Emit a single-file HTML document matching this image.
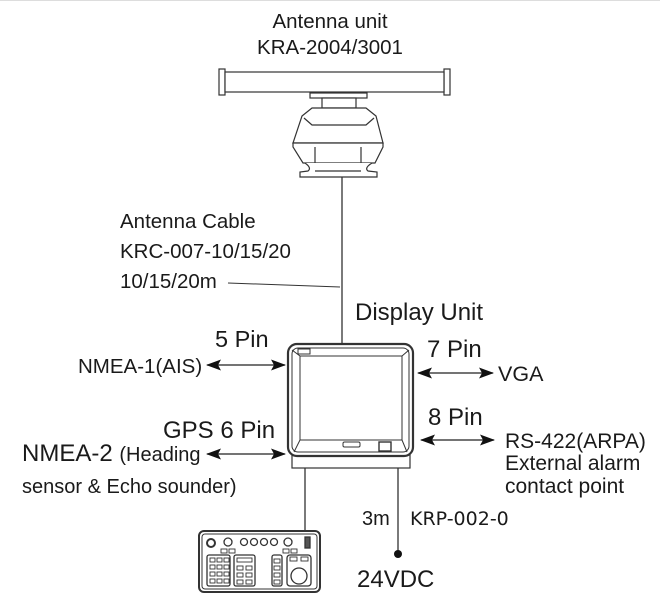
<!DOCTYPE html>
<html><head><meta charset="utf-8"><style>
html,body{margin:0;padding:0;background:#fff}
svg{display:block}
text{font-family:"Liberation Sans",sans-serif;fill:#1a1a1a}
</style></head><body>
<svg width="660" height="609" viewBox="0 0 660 609" xmlns="http://www.w3.org/2000/svg">
<line x1="0" y1="0.5" x2="660" y2="0.5" stroke="#ddd"/>
<defs>
<marker id="ah" markerWidth="15" markerHeight="11" refX="14" refY="5.5" orient="auto-start-reverse" markerUnits="userSpaceOnUse"><path d="M0,0 L15,5.5 L0,11 L3,5.5 Z" fill="#111"/></marker>
</defs>
<!-- texts -->
<text x="330" y="28" font-size="20.5" text-anchor="middle">Antenna unit</text>
<text x="330" y="54" font-size="20.5" text-anchor="middle">KRA-2004/3001</text>
<text x="120" y="228" font-size="20.5">Antenna Cable</text>
<text x="120" y="258" font-size="20.5">KRC-007-10/15/20</text>
<text x="120" y="288" font-size="20.5">10/15/20m</text>
<text x="355" y="320" font-size="24">Display Unit</text>
<text x="215" y="347" font-size="23.5">5 Pin</text>
<text x="78" y="373" font-size="20.5">NMEA-1(AIS)</text>
<text x="163" y="438" font-size="24">GPS 6 Pin</text>
<text x="22" y="461" font-size="24">NMEA-2 <tspan font-size="20">(Heading</tspan></text>
<text x="22" y="493" font-size="20">sensor &amp; Echo sounder)</text>
<text x="427" y="357" font-size="24">7 Pin</text>
<text x="498" y="381" font-size="21.5">VGA</text>
<text x="428" y="425" font-size="24">8 Pin</text>
<text x="505" y="448" font-size="21">RS-422(ARPA)</text>
<text x="505" y="470" font-size="21">External alarm</text>
<text x="505" y="493" font-size="21">contact point</text>
<text x="362" y="525" font-size="20">3m</text>
<text x="410" y="525" font-size="19" style="font-family:'DejaVu Sans',sans-serif">KRP-002-0</text>
<text x="357" y="587" font-size="24">24VDC</text>
<!-- cable lines -->
<line x1="228" y1="283" x2="340" y2="287" stroke="#333" stroke-width="1"/>
<line x1="342" y1="177" x2="342" y2="344" stroke="#222" stroke-width="1.2"/>
<line x1="305" y1="468" x2="305" y2="531" stroke="#222" stroke-width="1.2"/>
<line x1="398" y1="468" x2="398" y2="553" stroke="#222" stroke-width="1.2"/>
<circle cx="398" cy="554" r="4" fill="#111"/>
<!-- arrows -->
<g stroke="#222" stroke-width="1.2" marker-start="url(#ah)" marker-end="url(#ah)">
<line x1="207" y1="365" x2="285" y2="365"/>
<line x1="207" y1="454" x2="285" y2="454"/>
<line x1="418" y1="373" x2="493" y2="373"/>
<line x1="421" y1="440" x2="494" y2="440"/>
</g>
<!-- antenna -->
<g fill="#fff" stroke="#333" stroke-width="1.2">
<rect x="219" y="69" width="6" height="26"/>
<rect x="444" y="69" width="6" height="26"/>
<rect x="225" y="72" width="219" height="20"/>
<rect x="310" y="93" width="57" height="5"/>
<rect x="322" y="98" width="34" height="10"/>
<path d="M302,116 L312,108 L366,108 L376,116 L383,143 L293,143 Z"/>
<path d="M304,118 L312,125 L366,125 L374,118" fill="none"/>
<path d="M293,143 L383,143 L383,147 L375,163 L303,163 L293,147 Z"/>
<line x1="315" y1="147" x2="315" y2="163"/><line x1="361" y1="147" x2="361" y2="163"/>
<path d="M305,163 Q312,168 308,171 L300,172 L300,177 L377,177 L377,172 L368,171 Q364,168 372,163" />
<line x1="315" y1="171" x2="361" y2="171"/>
</g>
<!-- display unit -->
<g fill="#fff" stroke="#333">
<rect x="292" y="455" width="118" height="13" stroke-width="1.2"/>
<rect x="288" y="344" width="125" height="112" rx="9" stroke-width="2.2"/>
<rect x="292" y="348" width="117" height="104" rx="6" stroke-width="1"/>
<path d="M300,356 L402,356 L402,440 L300,440 Z" stroke-width="1"/>
<line x1="292" y1="350" x2="300" y2="356"/><line x1="409" y1="350" x2="402" y2="356"/>
<line x1="294" y1="452" x2="300" y2="440"/><line x1="407" y1="452" x2="402" y2="440"/>
<rect x="298" y="349" width="12" height="5" stroke-width="1"/>
<rect x="343" y="442" width="17" height="5" rx="1.5" stroke-width="1"/>
<rect x="379" y="442" width="12" height="9" stroke-width="1.4"/>
</g>
<!-- keyboard -->
<g fill="#fff" stroke="#333" stroke-width="1.3">
<rect x="199" y="531" width="121" height="61" rx="5" stroke-width="2"/>
<rect x="202" y="534" width="115" height="55" rx="3" stroke-width="1"/>
<circle cx="211" cy="543" r="4" stroke-width="2"/>
<circle cx="228" cy="542" r="4"/><circle cx="244" cy="542" r="3.5"/><circle cx="254" cy="542" r="3.5"/><circle cx="264" cy="542" r="3.5"/><circle cx="274" cy="542" r="3.5"/><circle cx="288" cy="542" r="4"/>
<rect x="305" y="537" width="5" height="11" fill="#555"/>
<rect x="207" y="555" width="23" height="31" rx="2"/>
<rect x="234" y="555" width="21" height="31" rx="2"/>
<rect x="272" y="555" width="10" height="31" rx="2"/>
<rect x="287" y="555" width="24" height="31" rx="3"/>
<circle cx="299" cy="576" r="8"/>
</g>
<g fill="none" stroke="#333" stroke-width="0.9">
<rect x="210" y="558" width="5" height="4"/><rect x="217" y="558" width="5" height="4"/><rect x="224" y="558" width="5" height="4"/>
<rect x="210" y="565" width="5" height="4"/><rect x="217" y="565" width="5" height="4"/><rect x="224" y="565" width="5" height="4"/>
<rect x="210" y="572" width="5" height="4"/><rect x="217" y="572" width="5" height="4"/><rect x="224" y="572" width="5" height="4"/>
<rect x="210" y="579" width="5" height="4"/><rect x="217" y="579" width="5" height="4"/><rect x="224" y="579" width="5" height="4"/>
<rect x="237" y="558" width="15" height="4"/>
<rect x="237" y="566" width="6" height="4"/><rect x="246" y="566" width="6" height="4"/>
<rect x="237" y="573" width="6" height="4"/><rect x="246" y="573" width="6" height="4"/>
<rect x="237" y="580" width="6" height="4"/><rect x="246" y="580" width="6" height="4"/>
<rect x="274" y="559" width="6" height="4"/><rect x="274" y="566" width="6" height="4"/><rect x="274" y="573" width="6" height="4"/><rect x="274" y="580" width="6" height="4"/>
<rect x="290" y="557" width="7" height="4"/><rect x="301" y="557" width="7" height="4"/>
<rect x="221" y="549" width="6" height="4"/><rect x="229" y="549" width="6" height="4"/><rect x="283" y="549" width="6" height="4"/><rect x="291" y="549" width="6" height="4"/>
</g>
</svg>
</body></html>
